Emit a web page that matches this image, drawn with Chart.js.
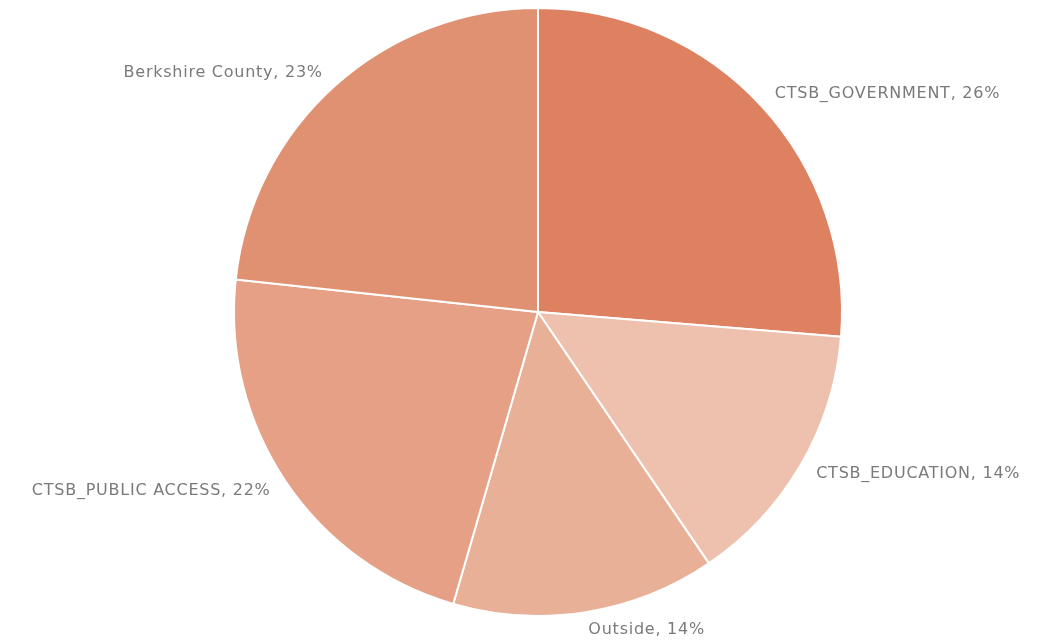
<!DOCTYPE html>
<html>
<head>
<meta charset="utf-8">
<script src="https://cdn.jsdelivr.net/npm/chart.js@4/dist/chart.umd.min.js"></script>
<style>
  html, body { margin: 0; padding: 0; background: #fff; }
  #wrap { width: 1043px; height: 642px; position: relative; }
</style>
</head>
<body>
<div id="wrap"><canvas id="pie"></canvas></div>
<script>
  // slices, clockwise from 12 o'clock
  const categories = ["CTSB_GOVERNMENT", "CTSB_EDUCATION", "Outside", "CTSB_PUBLIC ACCESS", "Berkshire County"];
  const shares = [26.3, 14.2, 14.0, 22.2, 23.3];
  const shareLabels = ["26%", "14%", "14%", "22%", "23%"];
  const sliceColors = ["#DE8160", "#EDC1AD", "#E9B098", "#E5A086", "#E09172"];

  // draws "name, pct" just outside each slice, along its middle angle
  const outsideLabels = {
    id: "outsideLabels",
    afterDatasetsDraw(chart) {
      const ctx = chart.ctx;
      const meta = chart.getDatasetMeta(0);
      ctx.save();
      ctx.font = "16px 'DejaVu Sans'";
      ctx.letterSpacing = "0.75px";
      ctx.fillStyle = "#7a7a7a";
      ctx.textBaseline = "middle";
      meta.data.forEach((arc, i) => {
        const mid = (arc.startAngle + arc.endAngle) / 2;
        const r = arc.outerRadius + 18;
        const x = arc.x + Math.cos(mid) * r;
        const y = arc.y + Math.sin(mid) * r;
        ctx.textAlign = Math.cos(mid) >= 0 ? "left" : "right";
        ctx.fillText(categories[i] + ", " + shareLabels[i], x, y);
      });
      ctx.restore();
    }
  };

  new Chart(document.getElementById("pie"), {
    type: "pie",
    data: {
      labels: categories,
      datasets: [{
        data: shares,
        backgroundColor: sliceColors,
        borderColor: "#ffffff",
        borderWidth: 2,
        hoverOffset: 0
      }]
    },
    plugins: [outsideLabels],
    options: {
      responsive: true,
      maintainAspectRatio: false,
      animation: false,
      layout: { padding: { top: 7, bottom: 25, left: 233, right: 200 } },
      plugins: {
        legend: { display: false },
        tooltip: { enabled: false }
      }
    }
  });
</script>
</body>
</html>
